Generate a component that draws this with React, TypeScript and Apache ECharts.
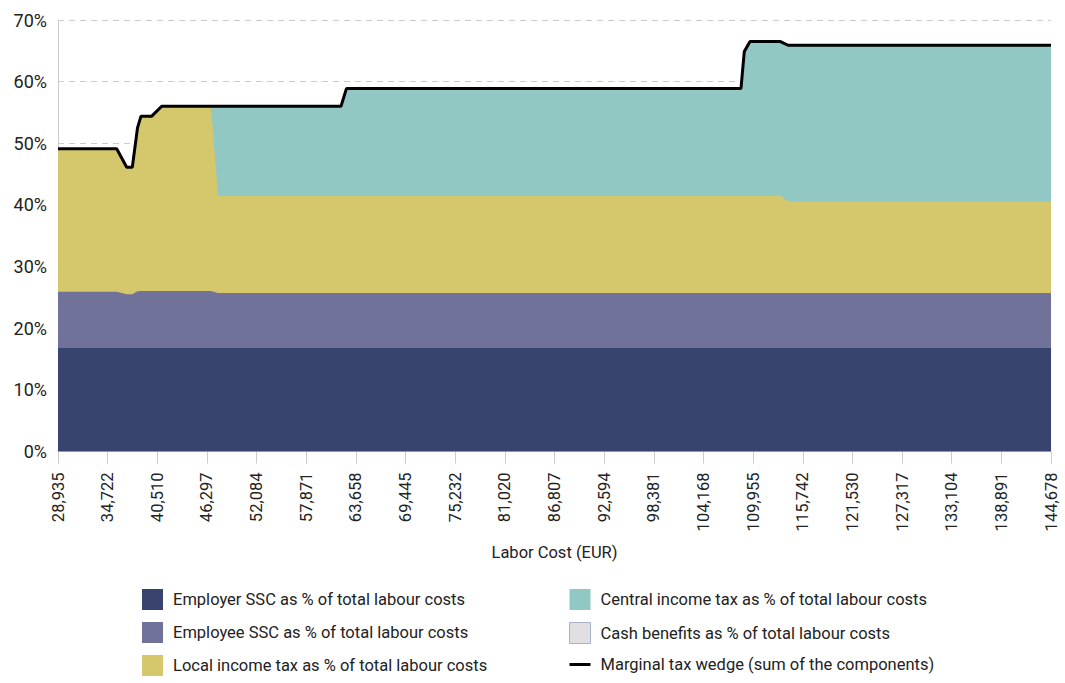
import React, { useEffect, useRef } from "react";
import * as echarts from "echarts";

// X tick labels (Labor cost, EUR)
const tickLabels = [
  "28,935", "34,722", "40,510", "46,297", "52,084", "57,871", "63,658",
  "69,445", "75,232", "81,020", "86,807", "92,594", "98,381", "104,168",
  "109,955", "115,742", "121,530", "127,317", "133,104", "138,891", "144,678",
];
const xMin = 28935;
const xMax = 144678;

// Breakpoints of the curves (labour cost, EUR)
const laborCost = [
  28935, 35777, 36943, 37595, 38202, 38609, 39857, 41022, 46769, 47585,
  61921, 62563, 108545, 108930, 109595, 113150, 114024, 144678,
];
// Components, % of total labour costs
const employerSSC = [
  16.8, 16.8, 16.8, 16.8, 16.8, 16.8, 16.8, 16.8, 16.8, 16.8,
  16.8, 16.8, 16.8, 16.8, 16.8, 16.8, 16.8, 16.8,
];
const employeeSSC = [
  9.1, 9.1, 8.7, 8.7, 9.2, 9.25, 9.25, 9.25, 9.25, 8.9,
  8.9, 8.9, 8.9, 8.9, 8.9, 8.9, 8.9, 8.9,
];
const localTax = [
  23.2, 23.2, 20.6, 20.6, 26.5, 28.35, 28.35, 29.95, 29.95, 15.8,
  15.8, 15.8, 15.8, 15.8, 15.8, 15.8, 14.9, 14.9,
];
const centralTax = [
  0, 0, 0, 0, 0, 0, 0, 0, 0, 14.5,
  14.5, 17.4, 17.4, 23.4, 25.0, 25.0, 25.3, 25.3,
];
const cashBenefits = [
  0, 0, 0, 0, 0, 0, 0, 0, 0, 0,
  0, 0, 0, 0, 0, 0, 0, 0,
];

const yTicks = [0, 10, 20, 30, 40, 50, 60, 70];

const names = {
  employer: "Employer SSC as % of total labour costs",
  employee: "Employee SSC as % of total labour costs",
  local: "Local income tax as % of total labour costs",
  central: "Central income tax as % of total labour costs",
  cash: "Cash benefits as % of total labour costs",
  wedge: "Marginal tax wedge (sum of the components)",
};

const colors = {
  employer: "#39436f",
  employee: "#70729a",
  local: "#d4c76c",
  central: "#92c8c3",
  cash: "#e0e0e3",
  cashBorder: "#a8b2c8",
  wedge: "#000000",
};

const FONT = 'Roboto, "Liberation Sans", sans-serif';
const FS = 16.5;

export default function App() {
  const ref = useRef<HTMLDivElement>(null);

  useEffect(() => {
    if (!ref.current) return;
    const chart = echarts.init(ref.current, null, { renderer: "svg" });

    const cum = (arrs: number[][]) =>
      laborCost.map((x, i) => [x, arrs.reduce((s, a) => s + a[i], 0)]);

    const top1 = cum([employerSSC]);
    const top2 = cum([employerSSC, employeeSSC]);
    const top3 = cum([employerSSC, employeeSSC, localTax]);
    const top4 = cum([employerSSC, employeeSSC, localTax, centralTax]);
    const top5 = cum([employerSSC, employeeSSC, localTax, centralTax, cashBenefits]);
    const wedge = cum([employerSSC, employeeSSC, localTax, centralTax, cashBenefits]);

    const area = (name: string, data: number[][], color: string, z: number) => ({
      name,
      type: "line",
      xAxisIndex: 1,
      data,
      z,
      showSymbol: false,
      symbol: "none",
      lineStyle: { width: 0, color },
      itemStyle: { color },
      areaStyle: { color, opacity: 1 },
      silent: true,
    });

    const legendText = { fontSize: FS, color: "#222", fontFamily: FONT, padding: [0, 0, 0, 5] };

    chart.setOption({
      animation: false,
      textStyle: { fontFamily: FONT },
      grid: { left: 58, right: 14, top: 20, bottom: 231.5, containLabel: false },
      legend: [
        {
          orient: "vertical",
          left: 142,
          top: 589,
          padding: 0,
          itemWidth: 21,
          itemHeight: 21,
          itemGap: 12,
          textStyle: legendText,
          selectedMode: false,
          data: [
            { name: names.employer, icon: "rect" },
            { name: names.employee, icon: "rect" },
            { name: names.local, icon: "rect" },
          ],
        },
        {
          orient: "vertical",
          left: 569,
          top: 589,
          padding: 0,
          itemWidth: 21,
          itemHeight: 21,
          itemGap: 12,
          textStyle: legendText,
          selectedMode: false,
          data: [
            { name: names.central, icon: "rect" },
            {
              name: names.cash,
              icon: "rect",
              itemStyle: { color: colors.cash, borderColor: colors.cashBorder, borderWidth: 1 },
            },
            { name: names.wedge, icon: "path://M0 0h21v3H0z" },
          ],
        },
      ],
      xAxis: [
        {
          type: "category",
          data: tickLabels,
          boundaryGap: false,
          name: "Labor Cost (EUR)",
          nameLocation: "middle",
          nameGap: 92,
          nameTextStyle: { fontSize: FS, color: "#222", fontFamily: FONT },
          axisLine: { show: true, lineStyle: { color: "#cccccc" } },
          axisTick: { show: true, length: 12, lineStyle: { color: "#cccccc" } },
          axisLabel: { interval: 0, rotate: 90, margin: 21, fontSize: FS, color: "#222", fontFamily: FONT },
          splitLine: { show: false },
        },
        {
          type: "value",
          min: xMin,
          max: xMax,
          show: false,
          splitLine: { show: false },
        },
      ],
      yAxis: {
        type: "value",
        min: yTicks[0],
        max: yTicks[yTicks.length - 1],
        interval: 10,
        axisLine: { show: true, lineStyle: { color: "#cccccc" } },
        axisTick: { show: false },
        axisLabel: { formatter: "{value}%", fontSize: 18, color: "#222", margin: 11, fontFamily: FONT },
        splitLine: { show: true, lineStyle: { color: "#cccccc", type: [6, 5], width: 1 } },
      },
      series: [
        area(names.employer, top1, colors.employer, 10),
        area(names.employee, top2, colors.employee, 9),
        area(names.local, top3, colors.local, 8),
        area(names.central, top4, colors.central, 7),
        area(names.cash, top5, colors.cash, 6),
        {
          name: names.wedge,
          type: "line",
          xAxisIndex: 1,
          data: wedge,
          z: 12,
          showSymbol: false,
          symbol: "none",
          lineStyle: { width: 3, color: colors.wedge },
          itemStyle: { color: colors.wedge },
          silent: true,
        },
      ],
    });

    return () => chart.dispose();
  }, []);

  return (
    <div
      ref={ref}
      style={{ position: "fixed", left: 0, top: 0, width: 1065, height: 683, background: "#fff" }}
    />
  );
}
